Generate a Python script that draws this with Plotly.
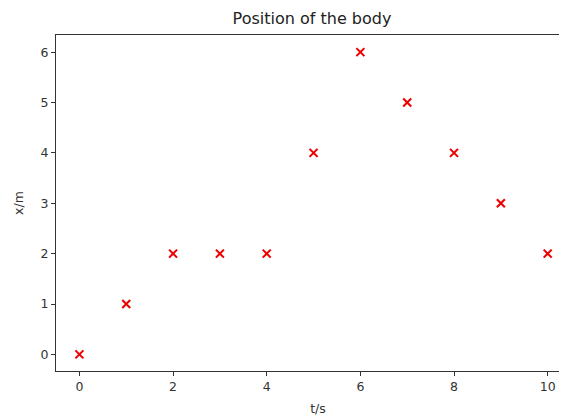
import plotly.graph_objects as go

t_values = [0, 1, 2, 3, 4, 5, 6, 7, 8, 9, 10]
x_values = [0, 1, 2, 2, 2, 4, 6, 5, 4, 3, 2]
x_ticks = [0, 2, 4, 6, 8, 10]
y_ticks = [0, 1, 2, 3, 4, 5, 6]

fig = go.Figure()
fig.add_trace(go.Scatter(
    x=t_values, y=x_values, mode="markers",
    marker=dict(symbol="x-thin", size=8, color="#ee0000",
                line=dict(width=2.1, color="#ee0000")),
))

font = "DejaVu Sans"
W, H = 572, 420
fig.update_layout(
    width=W, height=H,
    margin=dict(l=48, r=0, t=27, b=57),
    paper_bgcolor="white", plot_bgcolor="white",
    showlegend=False,
    title=dict(text="Position of the body", x=304 / W, xanchor="center",
               y=1 - 10 / H, yanchor="middle",
               font=dict(family=font, size=16, color="#222")),
    font=dict(family=font, size=12.5, color="#333"),
)
fig.update_xaxes(
    range=[-0.5, 10.69], tickvals=x_ticks, ticks="outside", ticklen=4,
    tickcolor="#333", showgrid=False, zeroline=False, automargin=False,
    showline=True, linecolor="#333", linewidth=1, mirror=True,
    title=dict(text="t/s", standoff=11, font=dict(family=font, size=12.5, color="#333")),
)
fig.update_yaxes(
    range=[-0.33, 6.34], tickvals=y_ticks, ticks="outside", ticklen=4,
    tickcolor="#333", showgrid=False, zeroline=False, automargin=False,
    showline=True, linecolor="#333", linewidth=1, mirror=False,
    title=dict(text="x/m", standoff=14, font=dict(family=font, size=12.5, color="#333")),
)
fig.write_html("out.html")
